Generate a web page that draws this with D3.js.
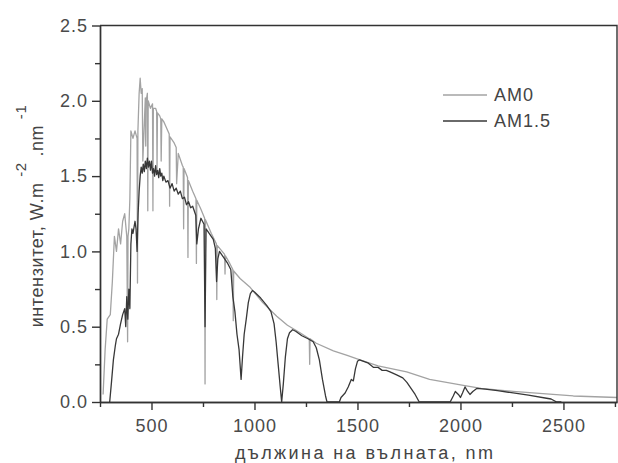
<!DOCTYPE html>
<html lang="bg">
  <head>
    <meta charset="UTF-8" />
    <title>AM0 / AM1.5</title>
    <style>
      body { margin: 0; background: #fff; }
      svg text { font-family: "Liberation Sans", Arial, sans-serif; fill: #444; }
      .axis path, .axis line { stroke: #333; stroke-width: 1.4; }
      .axis text { font-size: 18px; letter-spacing: 1px; fill: #4a4a4a; }
    </style>
  </head>
  <body>
    <svg width="618" height="463"></svg>
    <script src="https://cdn.jsdelivr.net/npm/d3@7"></script>
    <script>
      // values (wavelength nm, W.m-2.nm-1)
      const am0Wavelengths = [265, 275, 285, 300, 310, 320, 330, 340, 350, 360, 370, 380, 384, 386, 390, 395, 400, 410, 420, 430, 432, 434, 440, 445, 450, 455, 458, 470, 472, 474, 480, 482, 484, 495, 505, 507, 509, 520, 525, 527, 529, 540, 545, 547, 550, 560, 570, 586, 588, 590, 610, 620, 622, 630, 650, 654, 656, 658, 675, 677, 679, 700, 716, 718, 720, 740, 758, 760, 762, 790, 815, 817, 819, 855, 857, 859, 880, 895, 897, 899, 930, 980, 1040, 1108, 1160, 1221, 1266, 1268, 1270, 1300, 1383, 1450, 1512, 1600, 1739, 1850, 2014, 2100, 2256, 2400, 2548, 2760];
      const am0Values = [0.05, 0.35, 0.55, 0.58, 0.8, 1.1, 1.0, 1.15, 1.05, 1.2, 1.25, 1.1, 0.4, 1.1, 1.15, 1.35, 1.8, 1.75, 1.8, 1.75, 0.79, 1.8, 2.05, 2.15, 2.05, 2.08, 1.6, 2.02, 1.7, 2.0, 2.05, 1.27, 2.0, 1.95, 1.98, 1.27, 1.95, 1.95, 1.93, 1.55, 1.92, 1.9, 1.88, 1.6, 1.88, 1.86, 1.83, 1.78, 1.3, 1.76, 1.72, 1.69, 1.45, 1.65, 1.57, 1.56, 1.15, 1.55, 1.49, 0.96, 1.47, 1.4, 1.35, 0.92, 1.34, 1.28, 1.22, 0.12, 1.21, 1.12, 1.05, 0.68, 1.04, 0.98, 0.85, 0.97, 0.92, 0.88, 0.54, 0.87, 0.82, 0.76, 0.66, 0.57, 0.51, 0.46, 0.42, 0.25, 0.42, 0.39, 0.34, 0.31, 0.28, 0.24, 0.2, 0.15, 0.11, 0.09, 0.07, 0.055, 0.04, 0.03];

      const am15Wavelengths = [297, 305, 315, 325, 330, 340, 350, 360, 370, 375, 380, 385, 390, 395, 400, 405, 410, 420, 425, 430, 435, 440, 445, 450, 455, 460, 465, 470, 475, 480, 485, 490, 495, 500, 505, 510, 515, 520, 525, 530, 535, 540, 545, 550, 555, 560, 570, 580, 590, 600, 610, 620, 630, 640, 650, 660, 670, 680, 690, 700, 715, 720, 728, 740, 755, 760, 765, 780, 800, 810, 816, 822, 830, 850, 870, 885, 895, 905, 915, 925, 935, 942, 950, 960, 970, 980, 990, 1000, 1030, 1060, 1080, 1095, 1105, 1115, 1125, 1132, 1140, 1150, 1160, 1170, 1185, 1200, 1230, 1260, 1285, 1300, 1315, 1330, 1345, 1352, 1412, 1420, 1440, 1455, 1470, 1480, 1490, 1500, 1510, 1530, 1550, 1577, 1600, 1620, 1640, 1658, 1690, 1720, 1740, 1760, 1780, 1800, 1950, 1965, 1975, 1990, 2000, 2010, 2022, 2035, 2046, 2060, 2079, 2120, 2180, 2256, 2330, 2418, 2440, 2467, 2490];
      const am15Values = [0.0, 0.12, 0.28, 0.38, 0.42, 0.45, 0.52, 0.58, 0.62, 0.5, 0.7, 0.55, 0.75, 0.62, 1.05, 1.15, 1.12, 1.2, 1.15, 1.0, 1.25, 1.4, 1.5, 1.56, 1.52, 1.58, 1.53, 1.6, 1.55, 1.62, 1.56, 1.6, 1.54, 1.6, 1.52, 1.55, 1.5, 1.57, 1.51, 1.54, 1.49, 1.55, 1.5, 1.52, 1.47, 1.5, 1.46, 1.47, 1.42, 1.45, 1.4, 1.42, 1.38, 1.4, 1.35, 1.36, 1.31, 1.33, 1.29, 1.3, 1.24, 1.05, 1.15, 1.22, 1.18, 0.5, 1.15, 1.12, 1.08, 1.02, 0.8, 0.95, 1.0, 0.96, 0.92, 0.88, 0.7, 0.6, 0.45, 0.35, 0.15, 0.3, 0.45, 0.55, 0.66, 0.72, 0.74, 0.73, 0.69, 0.64, 0.6, 0.52, 0.4, 0.25, 0.1, 0.0, 0.12, 0.3, 0.42, 0.46, 0.48, 0.47, 0.44, 0.42, 0.4, 0.36, 0.28, 0.15, 0.04, 0.0, 0.0, 0.03, 0.06, 0.1, 0.15, 0.14, 0.22, 0.27, 0.28, 0.27, 0.26, 0.23, 0.23, 0.21, 0.21, 0.2, 0.18, 0.16, 0.13, 0.09, 0.05, 0.0, 0.0, 0.04, 0.07, 0.05, 0.03, 0.06, 0.1, 0.07, 0.05, 0.07, 0.09, 0.085, 0.075, 0.06, 0.045, 0.025, 0.02, 0.0, 0.0];

      const xTicks = [500, 1000, 1500, 2000, 2500];
      const xMinorTicks = [250, 750, 1250, 1750, 2250, 2750];
      const yTicks = [0, 0.5, 1.0, 1.5, 2.0, 2.5];
      const yMinorTicks = [0.25, 0.75, 1.25, 1.75, 2.25];
      const seriesNames = ["AM0", "AM1.5"];
      const seriesColors = ["#a3a3a3", "#383838"];

      var svg = d3.select("svg"),
        plotLeft = 100,
        plotRight = 617,
        plotTop = 25.5,
        plotBottom = 402;

      var x = d3.scaleLinear().domain([250, 2760]).range([plotLeft, plotRight]);
      var y = d3.scaleLinear().domain([0, 2.5]).range([plotBottom, plotTop]);

      var am0 = am0Wavelengths.map((w, i) => [w, am0Values[i]]);
      var am15 = am15Wavelengths.map((w, i) => [w, am15Values[i]]);

      svg.append("clipPath").attr("id", "clip")
        .append("rect")
        .attr("x", plotLeft).attr("y", plotTop)
        .attr("width", plotRight - plotLeft).attr("height", plotBottom - plotTop);

      var line = d3.line()
        .x((d) => x(d[0]))
        .y((d) => y(d[1]));

      var plot = svg.append("g").attr("clip-path", "url(#clip)");

      [am0, am15].forEach((data, i) => {
        plot.append("path")
          .datum(data)
          .attr("fill", "none")
          .attr("stroke", seriesColors[i])
          .attr("stroke-width", 1.3)
          .attr("stroke-linejoin", "round")
          .attr("d", line);
      });

      // axes
      svg.append("g")
        .attr("class", "axis")
        .attr("transform", "translate(0," + plotBottom + ")")
        .call(d3.axisBottom(x).tickValues(xMinorTicks).tickSize(5).tickFormat("").tickSizeOuter(0));
      var xAxis = svg.append("g")
        .attr("class", "axis")
        .attr("transform", "translate(0," + plotBottom + ")")
        .call(d3.axisBottom(x).tickValues(xTicks).tickSize(8).tickSizeOuter(0).tickFormat(d3.format("d")));
      xAxis.selectAll("text").attr("y", 17);

      svg.append("g")
        .attr("class", "axis")
        .attr("transform", "translate(" + plotLeft + ",0)")
        .call(d3.axisLeft(y).tickValues(yMinorTicks).tickSize(5).tickFormat("").tickSizeOuter(0));
      var yAxis = svg.append("g")
        .attr("class", "axis")
        .attr("transform", "translate(" + plotLeft + ",0)")
        .call(d3.axisLeft(y).tickValues(yTicks).tickSize(8).tickSizeOuter(0).tickFormat(d3.format(".1f")));
      yAxis.selectAll("text").attr("x", -12);

      // frame top and right
      svg.append("path")
        .attr("d", `M${plotLeft},${plotTop}H${plotRight}V${plotBottom}`)
        .attr("fill", "none")
        .attr("stroke", "#333")
        .attr("stroke-width", 1.4);

      // legend
      var legend = svg.append("g").attr("transform", "translate(443,95)");
      seriesNames.forEach((name, i) => {
        legend.append("line")
          .attr("x1", 0).attr("x2", 44)
          .attr("y1", i * 26).attr("y2", i * 26)
          .attr("stroke", seriesColors[i])
          .attr("stroke-width", 1.3);
        legend.append("text")
          .attr("x", 51)
          .attr("y", i * 26 + 6)
          .style("font-size", "18px")
          .style("letter-spacing", "1px")
          .text(name);
      });

      // axis titles
      svg.append("text")
        .attr("x", 364)
        .attr("y", 459)
        .attr("text-anchor", "middle")
        .attr("textLength", 258)
        .attr("lengthAdjust", "spacing")
        .style("font-size", "18px")
        .text("дължина на вълната, nm");

      var yTitle = svg.append("text")
        .attr("transform", "translate(43,216) rotate(-90)")
        .attr("text-anchor", "middle")
        .style("font-size", "18px")
        .style("letter-spacing", "0.6px");
      yTitle.append("tspan").text("интензитет, W.m ");
      yTitle.append("tspan").attr("dy", -17).style("font-size", "15px").text("-2");
      yTitle.append("tspan").attr("dy", 17).text(" .nm ");
      yTitle.append("tspan").attr("dy", -17).style("font-size", "15px").text("-1");
    </script>
  </body>
</html>
